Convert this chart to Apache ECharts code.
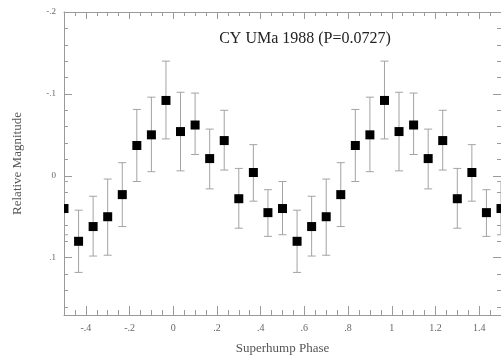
<!DOCTYPE html>
<html>
<head>
<meta charset="utf-8">
<script src="https://cdn.jsdelivr.net/npm/echarts@6/dist/echarts.min.js"></script>
<style>html,body{margin:0;padding:0;background:#fff;}#c{width:501px;height:360px;}</style>
</head>
<body>
<div id="c"></div>
<script>
// Superhump phase of each bin (folded light curve, shown over two cycles)
const phases = [-0.5, -0.4333, -0.3667, -0.3, -0.2333, -0.1667, -0.1, -0.0333, 0.0333, 0.1, 0.1667, 0.2333, 0.3, 0.3667, 0.4333,
                0.5, 0.5667, 0.6333, 0.7, 0.7667, 0.8333, 0.9, 0.9667, 1.0333, 1.1, 1.1667, 1.2333, 1.3, 1.3667, 1.4333, 1.5];
// Relative magnitude of each bin
const mags = [0.040, 0.080, 0.062, 0.050, 0.023, -0.037, -0.050, -0.092, -0.054, -0.062, -0.021, -0.043, 0.028, -0.004, 0.045,
              0.040, 0.080, 0.062, 0.050, 0.023, -0.037, -0.050, -0.092, -0.054, -0.062, -0.021, -0.043, 0.028, -0.004, 0.045,
              0.040];
// Error bar ends (upper = brighter end, lower = fainter end)
const errTop = [0.007, 0.042, 0.025, 0.004, -0.016, -0.081, -0.096, -0.140, -0.102, -0.101, -0.057, -0.080, -0.009, -0.038, 0.017,
                0.007, 0.042, 0.025, 0.004, -0.016, -0.081, -0.096, -0.140, -0.102, -0.101, -0.057, -0.080, -0.009, -0.038, 0.017,
                0.007];
const errBottom = [0.072, 0.118, 0.098, 0.097, 0.062, 0.007, -0.005, -0.045, -0.006, -0.026, 0.016, -0.007, 0.064, 0.031, 0.074,
                   0.072, 0.118, 0.098, 0.097, 0.062, 0.007, -0.005, -0.045, -0.006, -0.026, 0.016, -0.007, 0.064, 0.031, 0.074,
                   0.072];
// Tick positions and labels
const xMajorTicks = [-0.4, -0.2, 0, 0.2, 0.4, 0.6, 0.8, 1, 1.2, 1.4];
const xMajorLabels = ['-.4', '-.2', '0', '.2', '.4', '.6', '.8', '1', '1.2', '1.4'];
const xMinorTicks = [-0.45, -0.35, -0.3, -0.25, -0.15, -0.1, -0.05, 0.05, 0.1, 0.15, 0.25, 0.3, 0.35, 0.45, 0.5, 0.55, 0.65, 0.7, 0.75,
                     0.85, 0.9, 0.95, 1.05, 1.1, 1.15, 1.25, 1.3, 1.35, 1.45];
const yMajorTicks = [-0.2, -0.1, 0, 0.1];
const yMajorLabels = ['-.2', '-.1', '0', '.1'];
const yMinorTicks = [-0.18, -0.16, -0.14, -0.12, -0.08, -0.06, -0.04, -0.02, 0.02, 0.04, 0.06, 0.08, 0.12, 0.14, 0.16];

const titleText = 'CY UMa 1988 (P=0.0727)';
const xName = 'Superhump Phase';
const yName = 'Relative Magnitude';

const X_MIN = -0.5, X_MAX = 1.5, Y_MIN = -0.2, Y_MAX = 0.17;
const serif = 'Liberation Serif';
const axisGray = '#9a9a9a';
const labelGray = '#666';

function fmtFrom(vals, labels) {
  return function (v) {
    for (let i = 0; i < vals.length; i++) if (Math.abs(vals[i] - v) < 1e-6) return labels[i];
    return '';
  };
}

function xAx(pos, ticks, len, showLine, showLabel) {
  return {
    type: 'value', min: X_MIN, max: X_MAX, position: pos,
    axisLine: { show: showLine, onZero: false, lineStyle: { color: axisGray, width: 1 } },
    axisTick: { show: true, inside: true, length: len, customValues: ticks, lineStyle: { color: axisGray } },
    axisLabel: { show: showLabel, customValues: ticks, formatter: fmtFrom(xMajorTicks, xMajorLabels),
                 fontFamily: serif, fontSize: 10, color: labelGray, margin: 8 },
    splitLine: { show: false }
  };
}
function yAx(pos, ticks, len, showLine, showLabel) {
  return {
    type: 'value', min: Y_MIN, max: Y_MAX, inverse: true, position: pos,
    axisLine: { show: showLine, onZero: false, lineStyle: { color: axisGray, width: 1 } },
    axisTick: { show: true, inside: true, length: len, customValues: ticks, lineStyle: { color: axisGray } },
    axisLabel: { show: showLabel, customValues: ticks, formatter: fmtFrom(yMajorTicks, yMajorLabels),
                 fontFamily: serif, fontSize: 9, color: labelGray, margin: 8 },
    splitLine: { show: false }
  };
}

const xAxes = [
  Object.assign(xAx('bottom', xMajorTicks, 9, true, true), {
    name: xName, nameLocation: 'middle', nameGap: 27,
    nameTextStyle: { fontFamily: serif, fontSize: 13, color: '#555' }
  }),
  xAx('bottom', xMinorTicks, 5, false, false),
  xAx('top', xMajorTicks, 7, true, false),
  xAx('top', xMinorTicks, 4, false, false)
];
const yAxes = [
  Object.assign(yAx('left', yMajorTicks, 8, true, true), {
    name: yName, nameLocation: 'middle', nameGap: 40,
    nameTextStyle: { fontFamily: serif, fontSize: 13, color: '#555' }
  }),
  yAx('left', yMinorTicks, 4, false, false),
  yAx('right', yMajorTicks, 8, true, false),
  yAx('right', yMinorTicks, 4, false, false)
];

const errData = phases.map((p, i) => [p, errTop[i], errBottom[i]]);
const ptData = phases.map((p, i) => [p, mags[i]]);

const chart = echarts.init(document.getElementById('c'), null, { renderer: 'canvas' });
chart.setOption({
  animation: false,
  backgroundColor: '#fff',
  title: {
    text: titleText, left: 300, top: 26, textAlign: 'center',
    textStyle: { fontFamily: serif, fontSize: 16, fontWeight: 'normal', color: '#222' }
  },
  grid: { left: 64, right: -3, top: 12, bottom: 40, containLabel: false },
  xAxis: xAxes,
  yAxis: yAxes,
  series: [
    {
      type: 'custom', xAxisIndex: 0, yAxisIndex: 0, clip: true,
      data: errData,
      renderItem: function (params, api) {
        const x = api.value(0);
        const a = api.coord([x, api.value(1)]);
        const b = api.coord([x, api.value(2)]);
        const hw = 4;
        const st = { stroke: '#a3a3a3', lineWidth: 1 };
        return {
          type: 'group',
          children: [
            { type: 'line', shape: { x1: a[0], y1: a[1], x2: b[0], y2: b[1] }, style: st },
            { type: 'line', shape: { x1: a[0] - hw, y1: a[1], x2: a[0] + hw, y2: a[1] }, style: st },
            { type: 'line', shape: { x1: b[0] - hw, y1: b[1], x2: b[0] + hw, y2: b[1] }, style: st }
          ]
        };
      }
    },
    {
      type: 'custom', xAxisIndex: 0, yAxisIndex: 0, clip: true,
      data: ptData,
      renderItem: function (params, api) {
        const c = api.coord([api.value(0), api.value(1)]);
        const s = 9;
        return { type: 'rect', shape: { x: c[0] - s / 2, y: c[1] - s / 2, width: s, height: s }, style: { fill: '#000' } };
      }
    }
  ]
});
</script>
</body>
</html>
